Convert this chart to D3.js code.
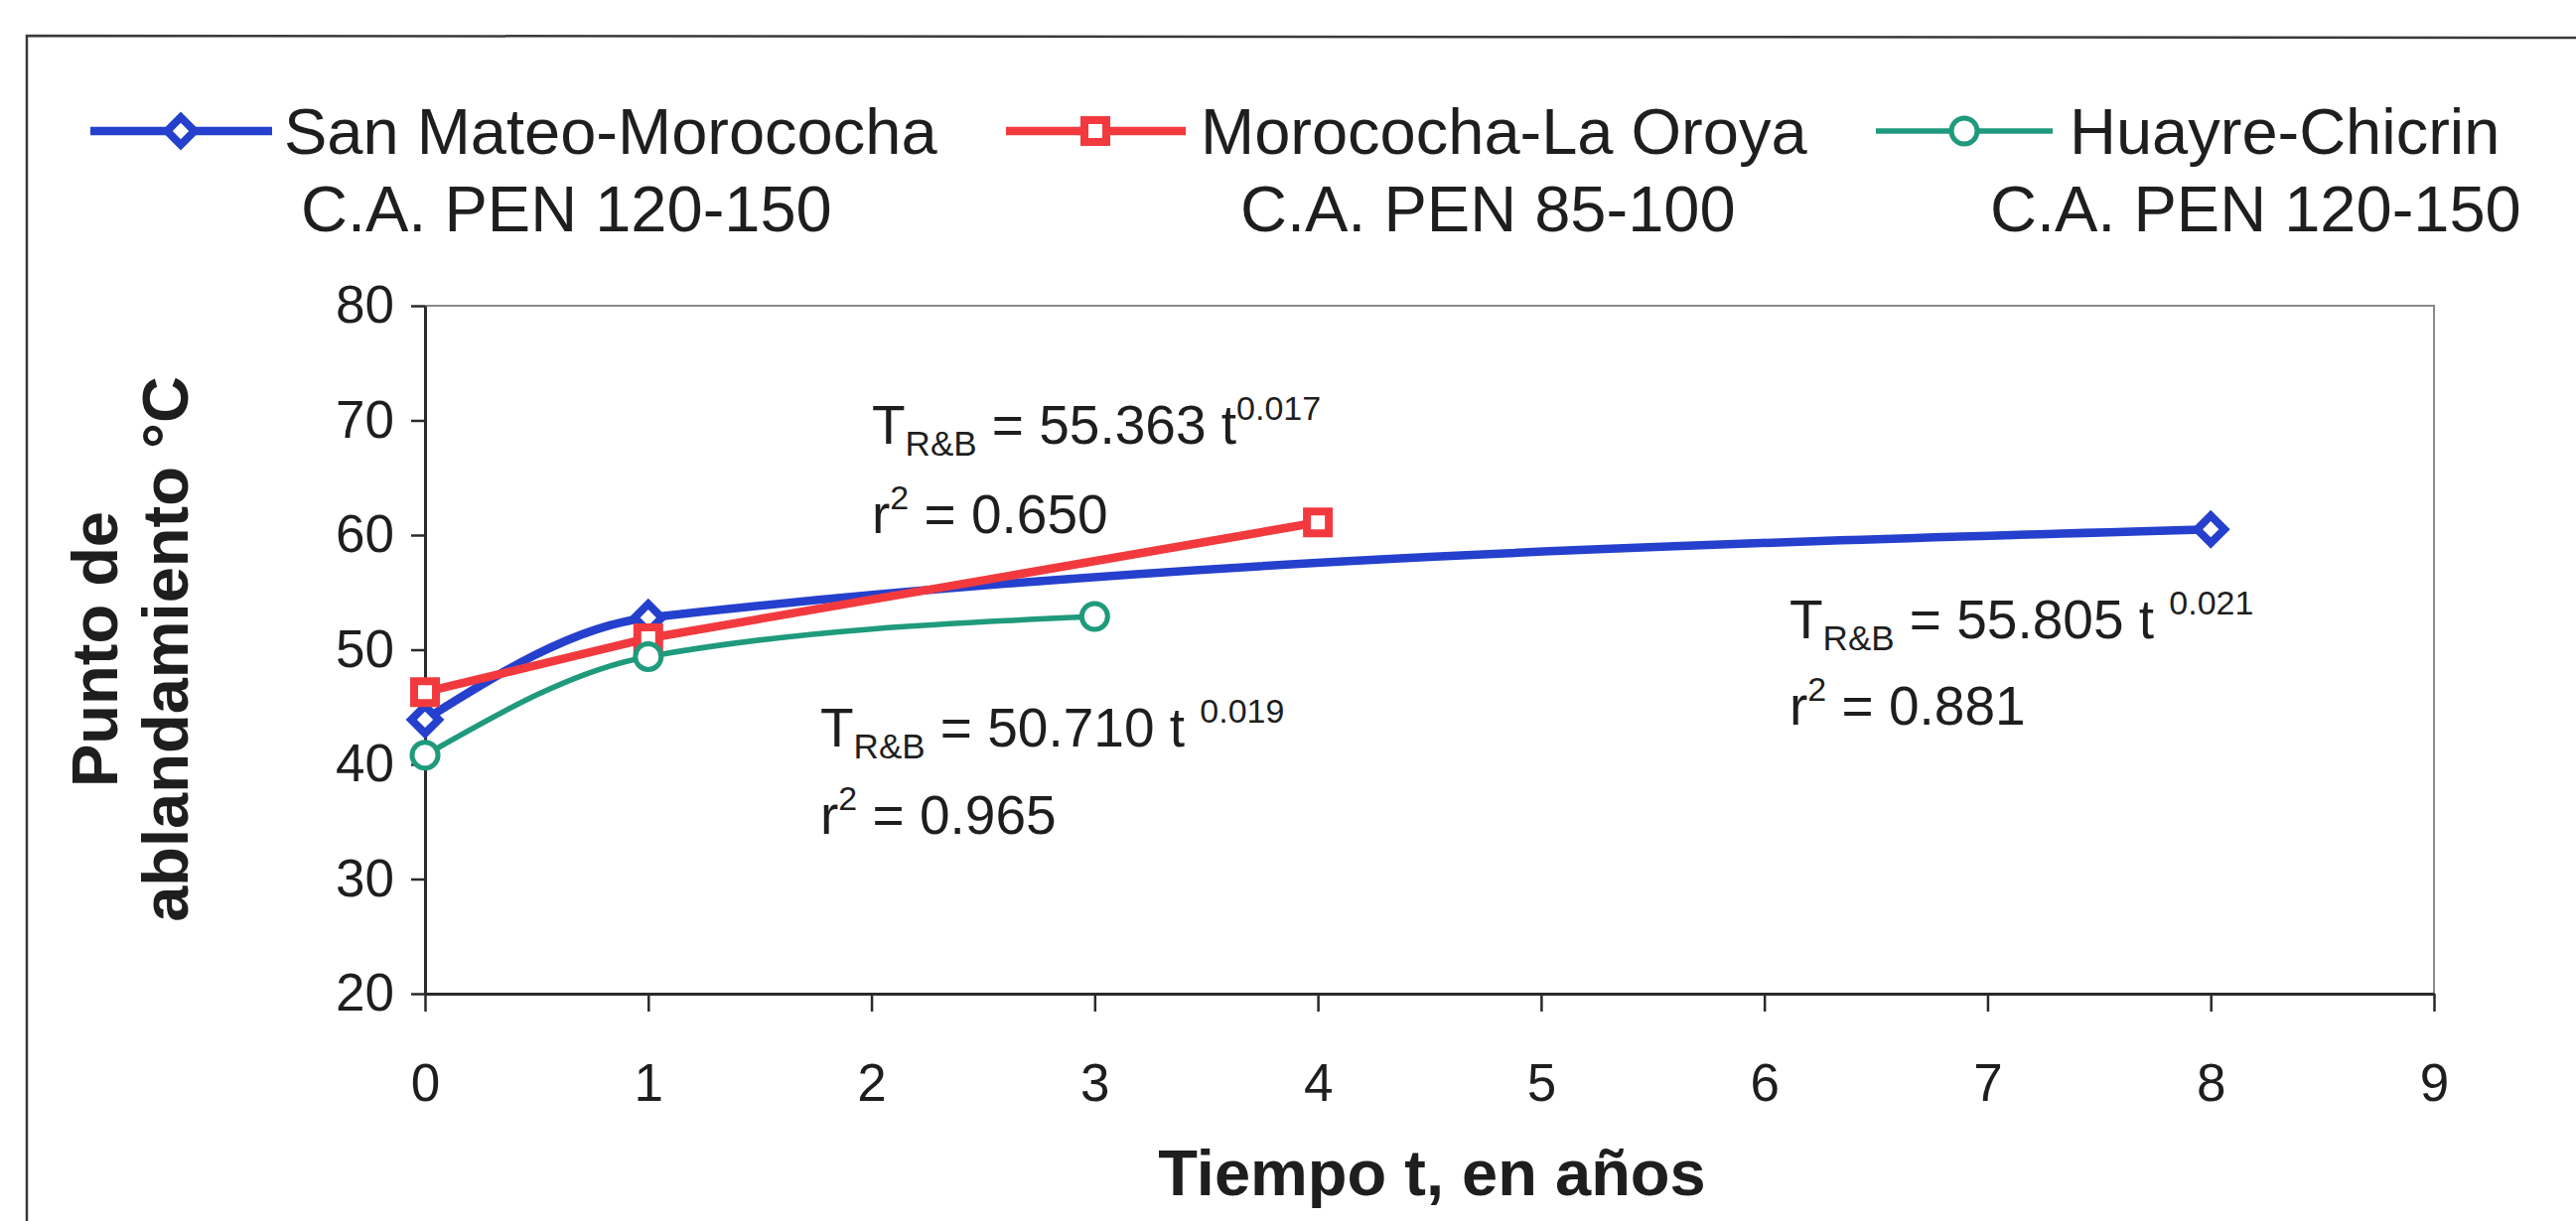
<!DOCTYPE html>
<html>
<head>
<meta charset="utf-8">
<script src="https://cdn.jsdelivr.net/npm/d3@7"></script>
<style>
  html, body { margin: 0; padding: 0; background: #fff; }
  svg { display: block; }
  text { font-family: "Liberation Sans", Arial, Helvetica, sans-serif; fill: #1e1e1e; white-space: pre; }
</style>
</head>
<body>
<svg id="chart" width="2594" height="1230"></svg>
<script>
// Axis ticks
const timeTicks = [0, 1, 2, 3, 4, 5, 6, 7, 8, 9];
const tempTicks = [20, 30, 40, 50, 60, 70, 80];

// Road sections and binder grade
const seriesNames = ["San Mateo-Morococha", "Morococha-La Oroya", "Huayre-Chicrin"];
const seriesGrades = ["C.A. PEN 120-150", "C.A. PEN 85-100", "C.A. PEN 120-150"];

// Softening point (°C) versus age of the pavement (years)
const sanMateoYears = [0, 1, 8];
const sanMateoTemps = [43.9, 52.8, 60.5];
const oroyaYears = [0, 1, 4];
const oroyaTemps = [46.3, 51.0, 61.1];
const chicrinYears = [0, 1, 3];
const chicrinTemps = [40.8, 49.4, 52.9];

// Power-law fits T = a t^b, in series order
const fitCoefs = ["55.805", "55.363", "50.710"];
const fitExps = ["0.021", "0.017", "0.019"];
const fitR2 = ["0.881", "0.650", "0.965"];

const svg = d3.select("#chart");
svg.append("rect").attr("width", 2594).attr("height", 1230).attr("fill", "#fff");

// outer frame (left and top edges)
svg.append("path")
  .attr("d", "M27,1230 L27,36 L2594,38")
  .attr("fill", "none").attr("stroke", "#3a3a3a").attr("stroke-width", 2.5);

const plot = { left: 428, right: 2451, top: 308, bottom: 1001 };
const x = d3.scaleLinear().domain([0, 9]).range([plot.left, plot.right]);
const y = d3.scaleLinear().domain([20, 80]).range([plot.bottom, plot.top]);

// plot-area frame on top and right
svg.append("path")
  .attr("d", `M${plot.left},${plot.top} L${plot.right},${plot.top} L${plot.right},${plot.bottom}`)
  .attr("fill", "none").attr("stroke", "#8a8a8a").attr("stroke-width", 2);

const yAxis = svg.append("g")
  .attr("transform", `translate(${plot.left},0)`)
  .call(d3.axisLeft(y).tickValues(tempTicks).tickSize(14).tickSizeOuter(0).tickPadding(17));
const xAxis = svg.append("g")
  .attr("transform", `translate(0,${plot.bottom})`)
  .call(d3.axisBottom(x).tickValues(timeTicks).tickSize(18).tickSizeOuter(0).tickPadding(52));

[yAxis, xAxis].forEach(g => {
  g.select(".domain").attr("stroke", "#2a2a2a").attr("stroke-width", 3);
  g.selectAll(".tick line").attr("stroke", "#2a2a2a").attr("stroke-width", 2.5);
  g.selectAll(".tick text").attr("font-size", 53).attr("fill", "#1e1e1e")
    .attr("font-family", '"Liberation Sans", Arial, sans-serif');
});

// axis titles
svg.append("text")
  .attr("x", 1442).attr("y", 1204)
  .attr("text-anchor", "middle")
  .attr("font-size", 65).attr("font-weight", "bold")
  .text("Tiempo t, en años");

[["Punto de", 118], ["ablandamiento °C", 189]].forEach(([label, bx]) => {
  svg.append("text")
    .attr("transform", `translate(${bx},654) rotate(-90)`)
    .attr("text-anchor", "middle")
    .attr("font-size", 65).attr("font-weight", "bold")
    .text(label);
});

// series styling
const series = [
  { years: sanMateoYears, temps: sanMateoTemps, color: "#2540cc", width: 8.5, curve: d3.curveMonotoneX, marker: "diamond" },
  { years: oroyaYears, temps: oroyaTemps, color: "#f23a3e", width: 8.5, curve: d3.curveLinear, marker: "square" },
  { years: chicrinYears, temps: chicrinTemps, color: "#1f9a7c", width: 5.5, curve: d3.curveMonotoneX, marker: "circle" }
];

function drawMarker(g, kind, color, cx, cy) {
  if (kind === "diamond") {
    g.append("path")
      .attr("d", d3.symbol(d3.symbolSquare, 380)())
      .attr("transform", `translate(${cx},${cy}) rotate(45)`)
      .attr("fill", "#fff").attr("stroke", color).attr("stroke-width", 8);
  } else if (kind === "square") {
    g.append("path")
      .attr("d", d3.symbol(d3.symbolSquare, 484)())
      .attr("transform", `translate(${cx},${cy})`)
      .attr("fill", "#fff").attr("stroke", color).attr("stroke-width", 8);
  } else {
    g.append("circle")
      .attr("cx", cx).attr("cy", cy).attr("r", 13)
      .attr("fill", "#fff").attr("stroke", color).attr("stroke-width", 5);
  }
}

const marks = svg.append("g");
series.forEach(s => {
  const pts = s.years.map((t, i) => [t, s.temps[i]]);
  marks.append("path")
    .datum(pts)
    .attr("fill", "none")
    .attr("stroke", s.color)
    .attr("stroke-width", s.width)
    .attr("stroke-linejoin", "round")
    .attr("stroke-linecap", "round")
    .attr("d", d3.line().x(d => x(d[0])).y(d => y(d[1])).curve(s.curve));
});
series.forEach(s => {
  s.years.forEach((t, i) => drawMarker(marks, s.marker, s.color, x(t), y(s.temps[i])));
});

// legend
const legendLayout = [
  { x0: 91, x1: 274, mx: 182, tx: 286, gx: 303 },
  { x0: 1013, x1: 1194, mx: 1103, tx: 1209, gx: 1249 },
  { x0: 1889, x1: 2067, mx: 1978, tx: 2084, gx: 2004 }
];
const legend = svg.append("g");
series.forEach((s, i) => {
  const L = legendLayout[i];
  legend.append("line")
    .attr("x1", L.x0).attr("x2", L.x1).attr("y1", 132).attr("y2", 132)
    .attr("stroke", s.color).attr("stroke-width", s.width);
  drawMarker(legend, s.marker, s.color, L.mx, 132);
  legend.append("text").attr("x", L.tx).attr("y", 155).attr("font-size", 65).text(seriesNames[i]);
  legend.append("text").attr("x", L.gx).attr("y", 233).attr("font-size", 65).text(seriesGrades[i]);
});

// fitted equations
const eqLayout = [
  { x: 1802, y: 643, ry: 730, gap: " " },
  { x: 878, y: 447, ry: 537, gap: "" },
  { x: 826, y: 752, ry: 840, gap: " " }
];
const notes = svg.append("g");
eqLayout.forEach((E, i) => {
  const t = notes.append("text").attr("x", E.x).attr("y", E.y).attr("font-size", 55);
  t.append("tspan").text("T");
  t.append("tspan").attr("font-size", 35).attr("dy", 12).text("R&B");
  t.append("tspan").attr("dy", -12).text(` = ${fitCoefs[i]} t${E.gap}`);
  t.append("tspan").attr("font-size", 34).attr("dy", -24).text(fitExps[i]);

  const r = notes.append("text").attr("x", E.x).attr("y", E.ry).attr("font-size", 55);
  r.append("tspan").text("r");
  r.append("tspan").attr("font-size", 34).attr("dy", -24).text("2");
  r.append("tspan").attr("dy", 24).text(` = ${fitR2[i]}`);
});
</script>
</body>
</html>
